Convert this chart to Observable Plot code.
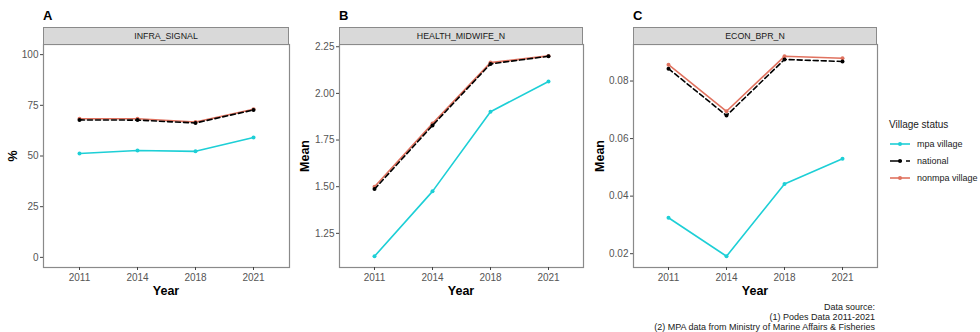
<!DOCTYPE html>
<html><head><meta charset="utf-8">
<script src="https://cdn.jsdelivr.net/npm/d3@7"></script>
<script src="https://cdn.jsdelivr.net/npm/@observablehq/plot@0.6"></script>
<style>
body{margin:0;background:#fff;font-family:"Liberation Sans",Arial,sans-serif;}
#wrap{position:relative;width:980px;height:332px;overflow:hidden;background:#fff;}
.strip{position:absolute;top:27px;height:18px;background:#d9d9d9;border:1px solid #8a8a8a;box-sizing:border-box;font-size:8.8px;color:#1a1a1a;display:flex;align-items:center;justify-content:center;}
.tag{position:absolute;top:8px;font-size:13px;font-weight:bold;color:#000;}
.xt{position:absolute;top:284px;font-size:12.5px;font-weight:bold;color:#000;transform:translateX(-50%);}
.yt{position:absolute;font-size:12.5px;font-weight:bold;color:#000;transform:translate(-50%,-50%) rotate(-90deg);white-space:nowrap;}
.cap{position:absolute;right:105px;top:302px;font-size:9px;line-height:10px;color:#1a1a1a;text-align:right;}
#legend{position:absolute;left:889px;top:119px;font-size:9px;color:#1a1a1a;}
#legend .ttl{font-size:10px;margin-bottom:5px;}
#legend .row{display:flex;align-items:center;height:17px;}
#legend .row span{margin-left:6px;}
</style></head>
<body>
<div id="wrap"></div>
<script>
const years = ["2011", "2014", "2018", "2021"];
const groups = ["mpa village", "national", "nonmpa village"];

// A: INFRA_SIGNAL (%)
const infraMpa = [51.2, 52.7, 52.3, 59.1];
const infraNational = [67.8, 67.7, 66.3, 72.7];
const infraNonmpa = [68.4, 68.4, 66.8, 73.1];
const infraTicks = [0, 25, 50, 75, 100];

// B: HEALTH_MIDWIFE_N (Mean)
const midwifeMpa = [1.127, 1.475, 1.902, 2.064];
const midwifeNational = [1.487, 1.828, 2.158, 2.199];
const midwifeNonmpa = [1.500, 1.838, 2.165, 2.201];
const midwifeTicks = [1.25, 1.50, 1.75, 2.00, 2.25];

// C: ECON_BPR_N (Mean)
const bprMpa = [0.0325, 0.0191, 0.0442, 0.0530];
const bprNational = [0.0843, 0.0680, 0.0875, 0.0868];
const bprNonmpa = [0.0857, 0.0695, 0.0886, 0.0879];
const bprTicks = [0.02, 0.04, 0.06, 0.08];

const colors = {"mpa village": "#1dcfd6", "national": "#000000", "nonmpa village": "#e0725f"};
const dashes = {"mpa village": null, "national": "5,3", "nonmpa village": null};
const drawOrder = ["mpa village", "nonmpa village", "national"];

const wrap = document.getElementById("wrap");

function el(tag, cls, text, style) {
  const e = document.createElement(tag);
  if (cls) e.className = cls;
  if (text != null) e.textContent = text;
  if (style) Object.assign(e.style, style);
  wrap.appendChild(e);
  return e;
}

function panel(cfg) {
  const series = {"mpa village": cfg.mpa, "national": cfg.national, "nonmpa village": cfg.nonmpa};
  const marks = [Plot.frame({stroke: "#8a8a8a", strokeWidth: 1.2})];
  marks.push(Plot.axisX({tickSize: 3, tickPadding: 3, stroke: "#444", fill: "#555", fontSize: 10}));
  marks.push(Plot.axisY({ticks: cfg.ticks, tickFormat: cfg.fmt, tickSize: 3, tickPadding: 2, stroke: "#444", fill: "#555", fontSize: 10}));
  for (const g of drawOrder) {
    const data = years.map((y, i) => ({year: y, value: series[g][i], group: g}));
    marks.push(Plot.line(data, {x: "year", y: "value", stroke: colors[g], strokeWidth: 1.6, strokeDasharray: dashes[g] || undefined}));
    marks.push(Plot.dot(data, {x: "year", y: "value", fill: colors[g], r: 2}));
  }
  const chart = Plot.plot({
    width: cfg.width, height: 310,
    marginLeft: cfg.ml, marginRight: cfg.mr, marginTop: 44, marginBottom: 43,
    style: {fontFamily: '"Liberation Sans", Arial, sans-serif', background: "transparent"},
    x: {type: "point", domain: years, padding: 0.6, label: null},
    y: {domain: cfg.domain, label: null},
    marks
  });
  chart.style.position = "absolute";
  chart.style.left = cfg.left + "px";
  chart.style.top = "0px";
  wrap.appendChild(chart);
  const fx = cfg.left + cfg.ml, fw = cfg.width - cfg.ml - cfg.mr;
  el("div", "strip", cfg.strip, {left: fx + "px", width: fw + "px"});
  el("div", "tag", cfg.tag, {left: fx + "px"});
  el("div", "xt", "Year", {left: (fx + fw / 2) + "px"});
  el("div", "yt", cfg.ylab, {left: cfg.ylx + "px", top: "156px"});
}

panel({left: 0, width: 300, ml: 43, mr: 11, domain: [-5, 105], ticks: infraTicks, fmt: d3.format("d"),
  mpa: infraMpa, national: infraNational, nonmpa: infraNonmpa, strip: "INFRA_SIGNAL", tag: "A", ylab: "%", ylx: 13});
panel({left: 300, width: 290, ml: 39, mr: 7, domain: [1.067, 2.262], ticks: midwifeTicks, fmt: d3.format(".2f"),
  mpa: midwifeMpa, national: midwifeNational, nonmpa: midwifeNonmpa, strip: "HEALTH_MIDWIFE_N", tag: "B", ylab: "Mean", ylx: 305});
panel({left: 590, width: 300, ml: 43, mr: 13, domain: [0.0152, 0.0927], ticks: bprTicks, fmt: d3.format(".2f"),
  mpa: bprMpa, national: bprNational, nonmpa: bprNonmpa, strip: "ECON_BPR_N", tag: "C", ylab: "Mean", ylx: 600});

// legend
const leg = el("div", null, null);
leg.id = "legend";
const ttl = document.createElement("div"); ttl.className = "ttl"; ttl.textContent = "Village status"; leg.appendChild(ttl);
for (const g of groups) {
  const row = document.createElement("div"); row.className = "row";
  const ns = "http://www.w3.org/2000/svg";
  const s = document.createElementNS(ns, "svg"); s.setAttribute("width", 22); s.setAttribute("height", 8);
  const ln = document.createElementNS(ns, "line");
  ln.setAttribute("x1", 1); ln.setAttribute("x2", 21); ln.setAttribute("y1", 4); ln.setAttribute("y2", 4);
  ln.setAttribute("stroke", colors[g]); ln.setAttribute("stroke-width", 1.6);
  if (dashes[g]) ln.setAttribute("stroke-dasharray", "12,4");
  s.appendChild(ln);
  const c = document.createElementNS(ns, "circle");
  c.setAttribute("cx", 11); c.setAttribute("cy", 4); c.setAttribute("r", 2); c.setAttribute("fill", colors[g]);
  s.appendChild(c);
  row.appendChild(s);
  const t = document.createElement("span"); t.textContent = g; row.appendChild(t);
  leg.appendChild(row);
}

// caption
const cap = el("div", "cap", null);
cap.innerHTML = "Data source:<br>(1) Podes Data 2011-2021<br>(2) MPA data from Ministry of Marine Affairs &amp; Fisheries";
</script>
</body></html>
